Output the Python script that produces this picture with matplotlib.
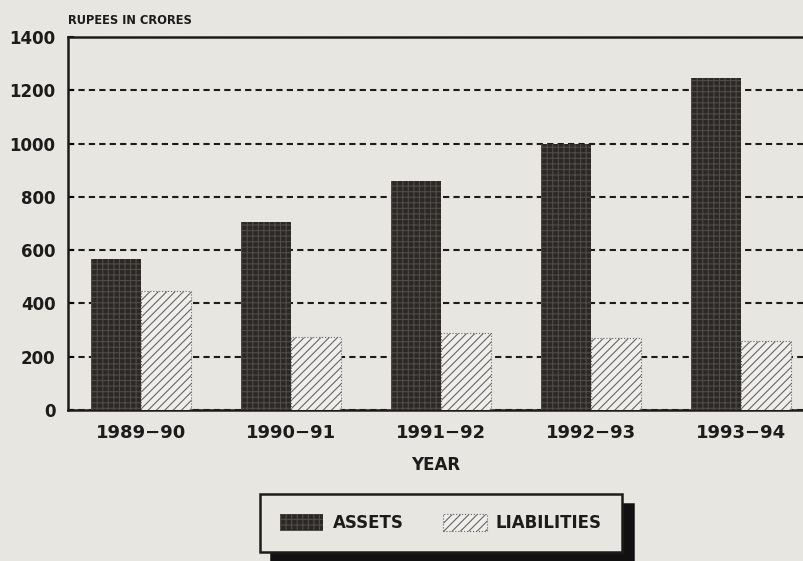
import numpy as np
import matplotlib.pyplot as plt

years = ['1989\u221290', '1990\u221291', '1991\u221292', '1992\u221293', '1993\u221294']
assets = [565, 705, 860, 1000, 1245]
liabilities = [445, 275, 290, 270, 260]
yticks = [0, 200, 400, 600, 800, 1000, 1200, 1400]

paper = '#e8e6e1'
ink = '#1e1c1a'
plt.rcParams['font.family'] = ['DejaVu Sans']
plt.rcParams['font.weight'] = 'bold'
plt.rcParams['hatch.linewidth'] = 0.8

fig = plt.figure(figsize=(8.04, 5.61), dpi=100, facecolor=paper)
ax = fig.add_axes([68 / 804, (561 - 410) / 561, (804 - 68) / 804, (410 - 37) / 561])
ax.set_facecolor(paper)

x = np.arange(len(years))
w = 1 / 3
# dark bars: gray hatch drawn on a near-black fill (hatch takes the edge colour)
b1 = ax.bar(x - w / 2, assets, w, color='#2b2926', edgecolor='#4f4c48',
            hatch='+++', linewidth=0, label='ASSETS', zorder=3)
b2 = ax.bar(x + w / 2, liabilities, w, color='#f0eeea', edgecolor='#666',
            hatch='////', linewidth=0.8, linestyle=':', label='LIABILITIES', zorder=3)

ax.set_xlim((68 - 141) / 150, (804 - 141) / 150)
ax.set_ylim(0, 1400)
ax.set_yticks(yticks)
ax.set_xticks(x)
ax.set_xticklabels(years, fontsize=13, fontweight='bold', color=ink)
ax.set_yticklabels([str(v) for v in yticks], fontsize=12, fontweight='bold', color=ink)
ax.tick_params(axis='y', length=4, width=1.5, direction='in', pad=9)
ax.tick_params(axis='x', length=0, pad=10)
ax.yaxis.grid(True, color=ink, linestyle=(0, (3, 2)), linewidth=1.5, zorder=1)
ax.set_axisbelow(True)
for s in ['left', 'bottom', 'top']:
    ax.spines[s].set_linewidth(1.8)
    ax.spines[s].set_color(ink)
ax.spines['right'].set_visible(False)

ax.set_xlabel('YEAR', fontsize=12, fontweight='bold', color=ink, labelpad=10)
fig.text(68 / 804, 1 - 20 / 561, 'RUPEES IN CRORES', fontsize=8.3, fontweight='bold',
         color=ink, va='center', ha='left')

leg = fig.legend(handles=[b1, b2], loc='center', bbox_to_anchor=(441 / 804, 38 / 561),
                 ncol=2, frameon=True, fancybox=False, fontsize=12,
                 handlelength=2.6, handleheight=1.2, handletextpad=0.55,
                 columnspacing=2.4, borderpad=1.2, borderaxespad=0,
                 shadow={'ox': 8, 'oy': -7, 'color': '#111', 'alpha': 1})
leg.get_frame().set_edgecolor(ink)
leg.get_frame().set_linewidth(1.8)
leg.get_frame().set_facecolor(paper)
for t in leg.get_texts():
    t.set_color(ink)

fig.savefig('out.png', dpi=100, facecolor=paper)
